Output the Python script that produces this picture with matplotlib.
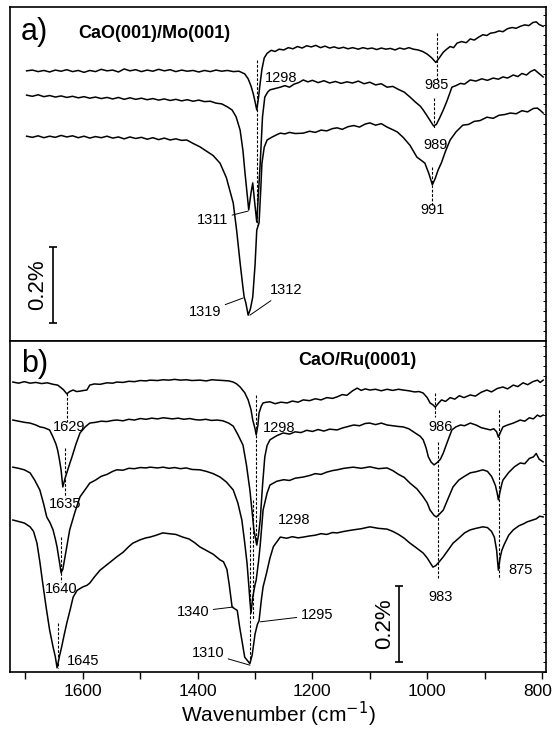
import numpy as np
import matplotlib
matplotlib.use("Agg")
import matplotlib.pyplot as plt
import matplotlib.transforms as mtransforms
from matplotlib.ticker import MultipleLocator

plt.rcParams['font.family'] = ['Liberation Sans', 'DejaVu Sans']

# ---- panel a) CaO(001)/Mo(001): (wavenumber, signal in %) ----
a_top = np.array([
    (1698, .711), (1688, .713), (1678, .709), (1668, .712), (1658, .708), (1648, .713), (1638, .710),
    (1628, .714), (1618, .709), (1608, .712), (1598, .707), (1588, .712), (1578, .709), (1568, .715),
    (1558, .711), (1548, .713), (1538, .708), (1528, .716), (1518, .711), (1508, .714), (1498, .709),
    (1488, .713), (1478, .710), (1468, .715), (1458, .711), (1448, .714), (1438, .709), (1428, .713),
    (1418, .710), (1408, .712), (1398, .708), (1388, .712), (1378, .709), (1368, .713), (1358, .710),
    (1348, .712), (1338, .709), (1328, .710), (1318, .703), (1312, .690), (1307, .671), (1303, .650),
    (1300, .630), (1297, .608), (1294, .640), (1291, .680), (1288, .715), (1284, .745), (1279, .757),
    (1272, .765), (1265, .762), (1258, .768), (1250, .766), (1242, .772), (1234, .769), (1226, .775),
    (1218, .771), (1210, .777), (1202, .774), (1194, .778), (1186, .772), (1178, .776), (1170, .771),
    (1162, .774), (1154, .770), (1146, .773), (1138, .769), (1130, .772), (1120, .768), (1112, .772),
    (1104, .769), (1096, .771), (1088, .767), (1080, .771), (1072, .768), (1064, .770), (1056, .766),
    (1048, .771), (1040, .768), (1032, .772), (1024, .768), (1016, .766), (1008, .762), (1000, .755),
    (992, .745), (985, .733), (979, .745), (972, .760), (966, .768), (960, .775), (954, .772),
    (948, .784), (940, .788), (932, .785), (925, .795), (918, .792), (910, .800), (903, .806),
    (896, .804), (890, .810), (882, .812), (875, .816), (868, .814), (860, .822), (852, .825),
    (845, .823), (838, .828), (830, .832), (823, .830), (816, .838), (810, .840), (805, .833), (798, .828)])

a_mid = np.array([
    (1698, .647), (1688, .644), (1678, .648), (1668, .643), (1658, .646), (1648, .642), (1638, .645),
    (1628, .641), (1618, .644), (1608, .640), (1598, .643), (1588, .639), (1578, .642), (1568, .638),
    (1558, .641), (1548, .637), (1538, .641), (1528, .636), (1518, .640), (1508, .636), (1498, .639),
    (1488, .635), (1478, .638), (1468, .634), (1458, .637), (1448, .633), (1438, .636), (1428, .632),
    (1418, .635), (1408, .631), (1398, .634), (1388, .630), (1378, .631), (1368, .626), (1358, .624),
    (1348, .616), (1340, .608), (1333, .590), (1326, .555), (1321, .500), (1318, .450), (1314, .390),
    (1311, .345), (1307, .390), (1304, .416), (1301, .370), (1297, .313), (1294, .390), (1291, .468),
    (1287, .590), (1283, .642), (1278, .655), (1274, .661), (1266, .664), (1256, .668), (1248, .672),
    (1240, .668), (1232, .676), (1224, .680), (1216, .687), (1208, .682), (1200, .686), (1190, .680),
    (1180, .685), (1170, .679), (1160, .683), (1150, .678), (1140, .682), (1130, .679), (1120, .684),
    (1110, .677), (1100, .681), (1090, .674), (1080, .677), (1070, .668), (1060, .670), (1050, .662),
    (1040, .655), (1030, .642), (1020, .628), (1012, .618), (1007, .608), (1000, .592), (994, .578),
    (989, .566), (984, .570), (978, .588), (972, .608), (966, .630), (960, .655), (957, .668),
    (950, .672), (942, .678), (935, .676), (925, .687), (915, .684), (905, .690), (895, .686),
    (885, .692), (876, .689), (868, .695), (860, .692), (850, .700), (842, .696), (835, .704),
    (827, .700), (820, .709), (813, .714), (806, .705), (798, .695)])

a_low = np.array([
    (1698, .539), (1688, .536), (1678, .540), (1668, .535), (1658, .539), (1648, .536), (1638, .541),
    (1628, .537), (1618, .540), (1608, .535), (1598, .539), (1588, .534), (1578, .538), (1568, .535),
    (1558, .539), (1548, .534), (1538, .537), (1528, .532), (1518, .537), (1508, .533), (1498, .536),
    (1488, .531), (1478, .535), (1468, .530), (1458, .534), (1448, .529), (1438, .532), (1428, .528),
    (1419, .529), (1408, .520), (1396, .511), (1385, .500), (1373, .488), (1361, .468), (1350, .430),
    (1338, .363), (1332, .290), (1326, .205), (1321, .140), (1319, .116), (1316, .100), (1312, .068),
    (1308, .085), (1304, .116), (1300, .200), (1297, .292), (1293, .311), (1290, .400), (1288, .468),
    (1284, .510), (1279, .529), (1270, .537), (1262, .543), (1256, .547), (1248, .545), (1240, .549),
    (1230, .546), (1216, .547), (1205, .552), (1195, .549), (1185, .555), (1175, .553), (1165, .559),
    (1157, .561), (1148, .557), (1138, .564), (1128, .567), (1118, .563), (1108, .571), (1100, .574),
    (1090, .568), (1080, .572), (1070, .563), (1060, .556), (1052, .550), (1042, .536), (1030, .515),
    (1018, .484), (1010, .475), (1004, .468), (997, .440), (991, .411), (986, .428), (981, .450),
    (975, .470), (968, .500), (960, .529), (950, .550), (938, .568), (928, .570), (918, .578),
    (908, .580), (896, .589), (885, .586), (875, .594), (865, .596), (855, .600), (845, .598),
    (835, .606), (825, .603), (815, .612), (808, .613), (803, .607), (798, .600)])

# ---- panel b) CaO/Ru(0001) ----
b_1 = np.array([
    (1722, .763), (1712, .760), (1702, .764), (1692, .760), (1682, .762), (1672, .759), (1662, .761),
    (1652, .757), (1644, .755), (1638, .748), (1634, .743), (1628, .732), (1623, .738), (1617, .742),
    (1611, .738), (1605, .739), (1598, .741), (1593, .742), (1588, .755), (1580, .758), (1570, .757),
    (1558, .761), (1548, .760), (1541, .763), (1530, .762), (1520, .765), (1510, .764), (1500, .767),
    (1490, .766), (1483, .768), (1470, .767), (1460, .769), (1450, .768), (1440, .770), (1430, .768),
    (1420, .769), (1410, .767), (1396, .768), (1385, .766), (1375, .769), (1366, .768), (1355, .767),
    (1346, .766), (1338, .763), (1332, .758), (1326, .750), (1318, .735), (1312, .716), (1307, .690),
    (1304, .663), (1300, .640), (1298, .624), (1295, .650), (1293, .682), (1289, .700), (1286, .708),
    (1280, .710), (1274, .711), (1265, .706), (1255, .710), (1244, .708), (1235, .713), (1225, .710),
    (1216, .716), (1205, .714), (1195, .719), (1185, .716), (1175, .722), (1165, .720), (1157, .724),
    (1148, .730), (1140, .728), (1130, .740), (1122, .747), (1115, .741), (1108, .745), (1100, .742),
    (1090, .744), (1080, .740), (1070, .744), (1060, .741), (1050, .744), (1042, .742), (1032, .740),
    (1022, .737), (1014, .738), (1007, .734), (1000, .722), (995, .708), (990, .703), (986, .697),
    (980, .708), (975, .716), (968, .712), (960, .722), (952, .718), (944, .727), (936, .722),
    (925, .729), (916, .726), (906, .736), (896, .742), (888, .737), (878, .746), (868, .750),
    (860, .745), (850, .755), (842, .751), (833, .761), (825, .756), (816, .764), (808, .768),
    (803, .762), (798, .768)])

b_2 = np.array([
    (1722, .663), (1712, .660), (1702, .657), (1692, .655), (1682, .650), (1675, .645), (1668, .643),
    (1658, .637), (1652, .618), (1647, .600), (1644, .584), (1641, .560), (1638, .532), (1635, .487),
    (1631, .510), (1628, .524), (1623, .548), (1619, .566), (1612, .600), (1605, .629), (1596, .645),
    (1588, .655), (1578, .657), (1568, .660), (1558, .659), (1548, .662), (1541, .663), (1530, .661),
    (1520, .665), (1510, .663), (1500, .667), (1490, .665), (1480, .668), (1470, .666), (1460, .669),
    (1454, .668), (1444, .666), (1434, .668), (1424, .665), (1414, .667), (1404, .664), (1396, .663),
    (1386, .665), (1376, .662), (1366, .663), (1356, .661), (1346, .655), (1338, .647), (1330, .625),
    (1321, .597), (1315, .545), (1309, .479), (1305, .420), (1302, .374), (1297, .334), (1294, .360),
    (1291, .400), (1287, .490), (1283, .566), (1279, .596), (1274, .611), (1262, .622), (1251, .629),
    (1240, .626), (1230, .632), (1220, .630), (1210, .636), (1200, .633), (1190, .638), (1180, .634),
    (1170, .639), (1157, .637), (1148, .642), (1138, .646), (1128, .650), (1118, .648), (1108, .654),
    (1100, .655), (1090, .651), (1080, .655), (1070, .650), (1060, .648), (1050, .646), (1042, .645),
    (1032, .640), (1022, .630), (1012, .620), (1007, .611), (1002, .590), (998, .566), (993, .552),
    (988, .545), (982, .552), (977, .560), (972, .576), (965, .605), (957, .637), (950, .645),
    (942, .650), (935, .648), (925, .655), (915, .650), (906, .643), (898, .640), (890, .637),
    (884, .640), (879, .632), (876, .618), (872, .632), (868, .645), (860, .650), (850, .655),
    (838, .663), (830, .660), (822, .669), (815, .666), (808, .676), (803, .672), (798, .676)])

b_3 = np.array([
    (1722, .539), (1712, .536), (1702, .532), (1692, .524), (1684, .505), (1675, .479), (1668, .440),
    (1663, .408), (1657, .392), (1652, .374), (1648, .350), (1645, .329), (1642, .300), (1640, .282),
    (1638, .261), (1635, .270), (1633, .287), (1628, .330), (1623, .374), (1614, .420), (1605, .461),
    (1596, .480), (1588, .497), (1578, .505), (1568, .515), (1558, .520), (1548, .528), (1541, .532),
    (1530, .531), (1520, .536), (1510, .535), (1500, .538), (1490, .537), (1483, .539), (1470, .537),
    (1460, .539), (1450, .536), (1440, .538), (1430, .535), (1420, .537), (1410, .533), (1396, .532),
    (1385, .528), (1373, .522), (1361, .513), (1350, .500), (1338, .479), (1330, .445), (1323, .400),
    (1318, .340), (1314, .287), (1311, .230), (1309, .189), (1307, .155), (1304, .197), (1300, .230),
    (1298, .242), (1294, .290), (1291, .334), (1286, .426), (1279, .471), (1274, .492), (1262, .502),
    (1250, .506), (1240, .504), (1230, .510), (1216, .513), (1205, .517), (1195, .522), (1185, .520),
    (1175, .526), (1165, .530), (1157, .532), (1145, .536), (1129, .539), (1115, .536), (1100, .540),
    (1085, .535), (1070, .537), (1060, .530), (1050, .520), (1040, .512), (1030, .497), (1018, .482),
    (1007, .461), (1000, .445), (995, .426), (988, .412), (984, .408), (979, .415), (972, .426),
    (964, .455), (955, .487), (945, .505), (935, .515), (925, .524), (915, .527), (903, .532),
    (895, .528), (888, .515), (885, .505), (881, .490), (878, .470), (876, .453), (873, .475),
    (870, .495), (868, .505), (858, .525), (848, .540), (838, .550), (830, .548), (822, .562),
    (815, .566), (810, .575), (805, .560), (798, .553)])

b_4 = np.array([
    (1722, .400), (1712, .396), (1702, .392), (1692, .382), (1686, .370), (1680, .339), (1675, .290),
    (1670, .234), (1664, .170), (1658, .111), (1652, .066), (1648, .040), (1645, .011), (1641, .040),
    (1637, .066), (1633, .095), (1628, .129), (1622, .165), (1617, .197), (1610, .215), (1600, .224),
    (1593, .228), (1588, .234), (1580, .250), (1570, .268), (1560, .280), (1550, .292), (1541, .303),
    (1530, .315), (1520, .330), (1513, .339), (1500, .348), (1490, .353), (1483, .355), (1472, .360),
    (1461, .366), (1450, .364), (1438, .362), (1426, .355), (1415, .350), (1405, .340), (1396, .329),
    (1385, .320), (1373, .310), (1361, .295), (1355, .290), (1349, .270), (1345, .230), (1340, .171),
    (1335, .166), (1331, .162), (1327, .120), (1323, .084), (1318, .039), (1309, .022), (1305, .045),
    (1300, .100), (1296, .125), (1293, .135), (1289, .190), (1286, .224), (1280, .260), (1274, .300),
    (1268, .330), (1256, .355), (1245, .352), (1235, .356), (1225, .353), (1216, .355), (1205, .358),
    (1195, .360), (1185, .364), (1175, .362), (1165, .367), (1157, .366), (1145, .370), (1129, .374),
    (1115, .377), (1100, .382), (1085, .378), (1070, .376), (1060, .370), (1050, .362), (1040, .352),
    (1030, .339), (1020, .328), (1007, .313), (1000, .300), (995, .288), (990, .276), (985, .280),
    (978, .292), (972, .303), (963, .322), (955, .339), (945, .352), (935, .366), (925, .374),
    (915, .378), (903, .382), (895, .380), (888, .370), (883, .355), (879, .320), (876, .268),
    (873, .300), (870, .320), (866, .335), (858, .360), (850, .374), (840, .385), (832, .390),
    (826, .395), (818, .399), (810, .403), (804, .410), (798, .408)])

# peak guides: (wavenumber, y from, y to)
a_dashes = [(1297, .739, .305), (983, .811, .687), (988, .639, .561), (991, .458, .358)]
b_dashes = [(1628, .734, .658), (1631, .589, .460), (1638, .355, .237), (1644, .129, .011),
            (1298, .729, .334), (1309, .382, .026), (1303, .453, .137),
            (986, .734, .671), (981, .605, .247), (875, .689, .247)]

# plain labels: (text, wavenumber, y, ha)
a_labels = [("1298", 1283, .692, 'left'), ("985", 983, .674, 'center'),
            ("989", 986, .516, 'center'), ("991", 991, .345, 'center')]
b_labels = [("1629", 1624, .645, 'center'), ("1635", 1631, .442, 'center'),
            ("1640", 1638, .218, 'center'), ("1645", 1628, .029, 'left'),
            ("1298", 1286, .642, 'left'), ("1298", 1260, .400, 'left'),
            ("986", 977, .645, 'center'), ("983", 976, .197, 'center'),
            ("875", 859, .268, 'left')]

# labels with leader lines: (text, text x, text y, ha, point x, point y)
a_leaders = [("1311", 1347, .318, 'right', 1312, .342),
             ("1319", 1359, .076, 'right', 1321, .113),
             ("1312", 1274, .134, 'left', 1309, .068)]
b_leaders = [("1340", 1380, .158, 'right', 1338, .171),
             ("1310", 1354, .050, 'right', 1309, .018),
             ("1295", 1220, .150, 'left', 1291, .132)]

fig = plt.figure(figsize=(5.55, 7.32), dpi=100)
ax_a = fig.add_axes([10 / 555, 1 - 341 / 732, 536 / 555, 334 / 732])
ax_b = fig.add_axes([10 / 555, 1 - 672 / 732, 536 / 555, 331 / 732])


def draw_panel(ax, traces, dashes, labels, leaders, ylim):
    for tr in traces:
        ax.plot(tr[:, 0], tr[:, 1], color='black', lw=1.1)
    for x, y0, y1 in dashes:
        ax.plot([x, x], [y0, y1], color='black', lw=0.8, ls=(0, (2.5, 1.5)))
    for txt, x, y, ha in labels:
        ax.text(x, y, txt, ha=ha, va='center', fontsize=10.5)
    for txt, tx, ty, ha, px, py in leaders:
        ax.annotate(txt, xy=(px, py), xytext=(tx, ty), ha=ha, va='center', fontsize=10.5,
                    arrowprops=dict(arrowstyle='-', lw=0.7, color='black', shrinkA=1, shrinkB=0))
    ax.set_xlim(1727, 793)
    ax.set_ylim(*ylim)
    for s in ax.spines.values():
        s.set_linewidth(1.2)
    ax.yaxis.tick_right()
    ax.yaxis.set_major_locator(MultipleLocator(0.026))
    ax.tick_params(axis='y', direction='in', length=2.5, width=0.7, labelright=False)


draw_panel(ax_a, [a_top, a_mid, a_low], a_dashes, a_labels, a_leaders, (0, 0.879))
draw_panel(ax_b, [b_1, b_2, b_3, b_4], b_dashes, b_labels, b_leaders, (0, 0.871))

ax_a.tick_params(axis='x', which='both', bottom=False, labelbottom=False)
ax_b.set_xticks([1600, 1400, 1200, 1000, 800])
ax_b.set_xticks([1700, 1500, 1300, 1100, 900], minor=True)
ax_b.tick_params(axis='x', which='both', direction='out', length=5, width=1.0, labelsize=12.5, pad=4)
ax_b.set_xlabel('Wavenumber (cm$^{-1}$)', fontsize=15, labelpad=0)

# keep the "800" label inside the canvas
last = ax_b.get_xticklabels()[-1]
last.set_transform(last.get_transform() + mtransforms.ScaledTranslation(-3 / 72, 0, fig.dpi_scale_trans))

# panel letters and titles
ax_a.text(0.02, 0.925, 'a)', transform=ax_a.transAxes, fontsize=22, va='center')
ax_a.text(0.127, 0.922, 'CaO(001)/Mo(001)', transform=ax_a.transAxes, fontsize=13,
          fontweight='bold', va='center')
ax_b.text(0.02, 0.930, 'b)', transform=ax_b.transAxes, fontsize=22, va='center')
ax_b.text(0.537, 0.940, 'CaO/Ru(0001)', transform=ax_b.transAxes, fontsize=13,
          fontweight='bold', va='center')

# 0.2 % scale bars
for ax, xb, y0, xt in [(ax_a, 1652, 0.047, 1679), (ax_b, 1049, 0.026, 1074)]:
    ax.errorbar([xb], [y0 + 0.1], yerr=[[0.1], [0.1]], color='black', lw=1.2, capsize=3, capthick=1.2)
    ax.text(xt, y0 + 0.1, '0.2%', rotation=90, ha='center', va='center', fontsize=16)

fig.savefig('out.png', dpi=100)
